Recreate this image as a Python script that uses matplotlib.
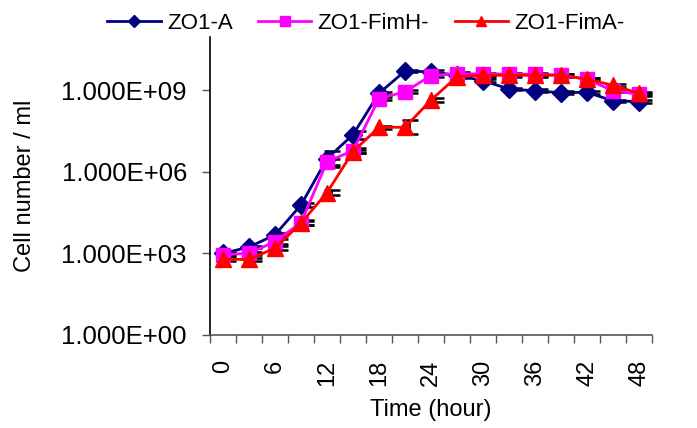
import numpy as np
import matplotlib
matplotlib.use("Agg")
import matplotlib.pyplot as plt
from matplotlib.ticker import FixedLocator, FuncFormatter, NullLocator
from matplotlib.transforms import ScaledTranslation

plt.rcParams['font.family'] = ['Liberation Sans', 'DejaVu Sans']

time_h = [0, 3, 6, 9, 12, 15, 18, 21, 24, 27, 30, 33, 36, 39, 42, 45, 48]
zo1_a = [1.0e3, 1.7e3, 4.8e3, 6.0e4, 3.0e6, 2.3e7, 7.6e8, 5.0e9, 4.7e9, 3.5e9,
         2.2e9, 1.1e9, 9.4e8, 8.0e8, 8.3e8, 4.0e8, 3.8e8]
zo1_fimh = [9.0e2, 1.0e3, 2.7e3, 1.35e4, 2.3e6, 6.0e6, 4.8e8, 8.7e8, 3.4e9, 4.0e9,
            3.9e9, 3.9e9, 3.8e9, 3.6e9, 2.5e9, 9.4e8, 7.0e8]
zo1_fima = [6.0e2, 6.0e2, 1.55e3, 1.3e4, 1.7e5, 5.5e6, 4.3e7, 4.3e7, 4.3e8, 3.1e9,
            3.5e9, 3.5e9, 3.5e9, 3.5e9, 2.5e9, 1.5e9, 7.6e8]
# error sizes (decades)
err_a = [0.05, 0.05, 0.05, 0.08, 0.30, 0.15, 0.06, 0.05, 0.05, 0.05,
         0.05, 0.05, 0.05, 0.05, 0.05, 0.05, 0.05]
err_fimh = [0.05, 0.05, 0.08, 0.08, 0.10, 0.08, 0.06, 0.05, 0.05, 0.05,
            0.05, 0.05, 0.05, 0.05, 0.05, 0.05, 0.05]
err_fima = [0.05, 0.05, 0.08, 0.08, 0.10, 0.06, 0.06, 0.25, 0.08, 0.05,
            0.05, 0.05, 0.05, 0.05, 0.05, 0.05, 0.05]
labels = ['ZO1-A', 'ZO1-FimH-', 'ZO1-FimA-']
colors = ['#000080', '#FF00FF', '#FF0000']
markers = ['D', 's', '^']
msizes = [9, 9.5, 11]
x_ticks = [0, 6, 12, 18, 24, 30, 36, 42, 48]
y_ticks = [1e0, 1e3, 1e6, 1e9]

fig = plt.figure(figsize=(6.97, 4.28), dpi=100)
ax = fig.add_axes([210/697, 1-335/428, (652-210)/697, (335-37)/428])

off = ax.transData + ScaledTranslation(0.05, 0, fig.dpi_scale_trans)
series = [zo1_a, zo1_fimh, zo1_fima]
errs = [err_a, err_fimh, err_fima]
for ys, es in zip(series, errs):
    ys = np.array(ys); es = np.array(es)
    lo = ys - ys * 10**(-es)
    hi = ys * 10**es - ys
    ax.errorbar(time_h, ys, yerr=[lo, hi], fmt='none', ecolor='black',
                elinewidth=1.2, capsize=6, capthick=1.8, zorder=2, transform=off)

for ys, lab, c, m, ms in zip(series, labels, colors, markers, msizes):
    ax.plot(time_h, ys, color=c, marker=m, markersize=ms, linewidth=2,
            label=lab, zorder=3)

ax.set_yscale('log')
ax.set_ylim(1, 10**10.95)
ax.set_xlim(-1.5, 49.5)
ax.yaxis.set_major_locator(FixedLocator(y_ticks))
ax.yaxis.set_minor_locator(NullLocator())
ax.yaxis.set_major_formatter(FuncFormatter(lambda v, p: f"{v:.3E}"))
ax.xaxis.set_major_locator(FixedLocator(x_ticks))
ax.xaxis.set_minor_locator(FixedLocator(np.arange(-1.5, 50, 3)))
ax.tick_params(axis='x', which='major', length=0, pad=18, labelsize=17, labelrotation=90)
ax.tick_params(axis='x', which='minor', length=5.8, width=1, color='#555555', direction='out')
ax.tick_params(axis='y', which='major', length=5.8, width=1, direction='out', pad=10.8,
               labelsize=18.5, color='#555555')
for s in ['top', 'right']:
    ax.spines[s].set_visible(False)
ax.spines['left'].set_linewidth(1.2)
ax.spines['bottom'].set_linewidth(1.2)
ax.spines['bottom'].set_color('#555555')

ax.set_xlabel('Time (hour)', fontsize=17, labelpad=9)
ax.set_ylabel('Cell number / ml', fontsize=17, labelpad=18.5)

fig.legend(loc='center', bbox_to_anchor=(0.525, 0.945), ncol=3, frameon=False,
           fontsize=16, handlelength=2.4, handletextpad=0.28, columnspacing=1.15,
           markerscale=0.7)

fig.savefig('out.png', dpi=100)
